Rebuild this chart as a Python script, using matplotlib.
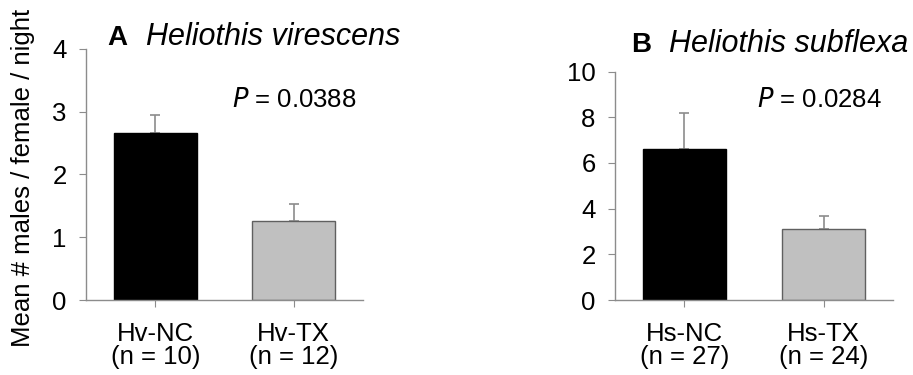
import matplotlib
matplotlib.use("Agg")
import matplotlib.pyplot as plt

plt.rcParams['font.family'] = ['Liberation Sans', 'DejaVu Sans']

# Data
cats_a = ["Hv-NC\n(n = 10)", "Hv-TX\n(n = 12)"]
means_a = [2.66, 1.25]
err_a = [0.28, 0.28]
p_a = "0.0388"

cats_b = ["Hs-NC\n(n = 27)", "Hs-TX\n(n = 24)"]
means_b = [6.6, 3.12]
err_b = [1.6, 0.56]
p_b = "0.0284"

bar_colors = ["#000000", "#c0c0c0"]
edge_colors = ["#000000", "#606060"]
axis_gray = "#8c8c8c"
FS = 18.5

fig = plt.figure(figsize=(9.13, 3.75), dpi=100)
ax_a = fig.add_axes([0.0942, 0.2, 0.3034, 0.6701])
ax_b = fig.add_axes([0.6736, 0.2, 0.3045, 0.6089])

def draw(ax, cats, means, errs, ymax, yticks):
    x = range(len(cats))
    ax.bar(x, means, width=0.6, color=bar_colors, edgecolor=edge_colors,
           linewidth=1.0, zorder=2)
    ax.errorbar(x, means, yerr=[[0] * len(errs), errs], fmt='none',
                ecolor=axis_gray, elinewidth=1.2, capsize=3.5, capthick=1.2,
                zorder=1)
    ax.set_xlim(-0.5, 1.5)
    ax.set_ylim(0, ymax)
    ax.set_yticks(yticks)
    ax.set_xticks(list(x))
    ax.set_xticklabels(cats, fontsize=FS, linespacing=0.95)
    ax.tick_params(axis='y', labelsize=FS, direction='out', length=5,
                   color=axis_gray, pad=9)
    ax.tick_params(axis='x', direction='out', length=5, color=axis_gray, pad=11)
    for s in ['top', 'right']:
        ax.spines[s].set_visible(False)
    for s in ['left', 'bottom']:
        ax.spines[s].set_color(axis_gray)
        ax.spines[s].set_linewidth(1.0)

draw(ax_a, cats_a, means_a, err_a, 4, [0, 1, 2, 3, 4])
draw(ax_b, cats_b, means_b, err_b, 10, [0, 2, 4, 6, 8, 10])

fig.text(232 / 913, 1 - 107 / 375, "$\\it{P}$ = " + p_a, fontsize=FS,
         ha='left', va='baseline')
fig.text(757 / 913, 1 - 107 / 375, "$\\it{P}$ = " + p_b, fontsize=FS,
         ha='left', va='baseline')

# Titles
fig.text(107 / 913, 1 - 45 / 375, "A", fontsize=20, fontweight='bold',
         ha='left', va='baseline')
fig.text(146 / 913, 1 - 45 / 375, "Heliothis virescens", fontsize=22,
         style='italic', ha='left', va='baseline')
fig.text(631 / 913, 1 - 52 / 375, "B", fontsize=20, fontweight='bold',
         ha='left', va='baseline')
fig.text(669 / 913, 1 - 52 / 375, "Heliothis subflexa", fontsize=22,
         style='italic', ha='left', va='baseline')

# Y label
fig.text(23 / 913, 1 - 178 / 375, "Mean # males / female / night",
         fontsize=FS, rotation=90, ha='center', va='center')

fig.savefig("out.png", dpi=100)
